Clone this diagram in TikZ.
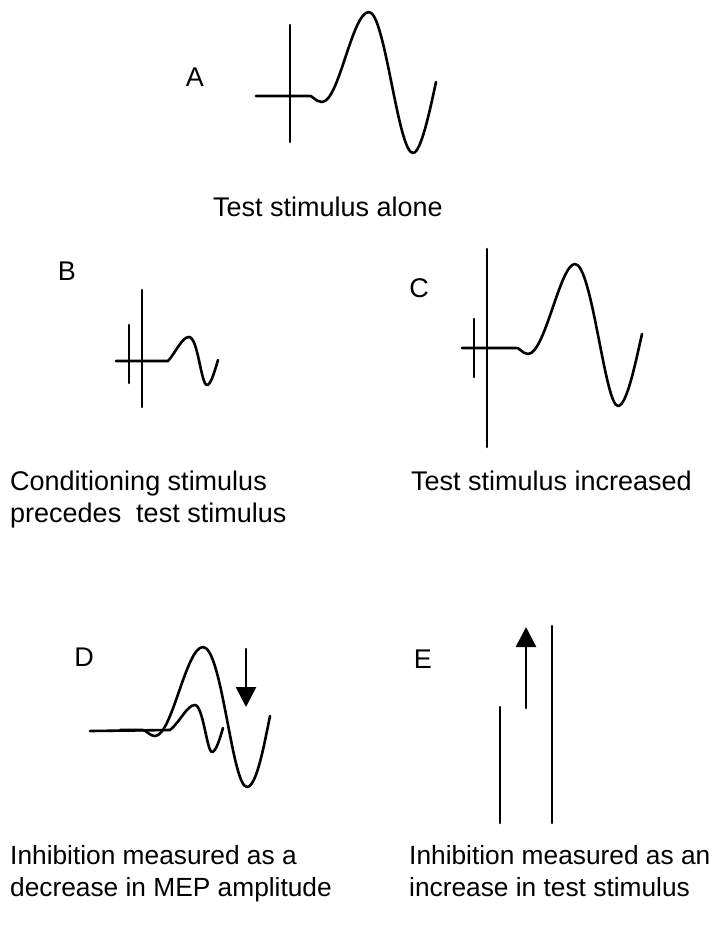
\documentclass[tikz,border=0pt]{standalone}
\usepackage{fontspec}
\setmainfont{Liberation Sans}
\usepackage{tikz}
\usetikzlibrary{arrows.meta}
\tikzset{
  trace/.style={line width=2.6pt, line join=round, line cap=round},
  panel/.style={font=\fontsize{27}{32}\selectfont, inner sep=0pt},
  caption/.style={panel, anchor=base west},
  note/.style={caption, font=\fontsize{26.3}{32}\selectfont},
  bigtip/.style={-{Triangle[length=20pt,width=20pt]}},
}

\begin{document}
\begin{tikzpicture}[x=1pt, y=-1pt]
			\useasboundingbox (0,0) rectangle (715,927);

			% A: test stimulus alone
			\node[panel] (labA) at (195,77) {A};
			\draw[trace] (290,25) -- (290,142);
			\draw[trace] (256,96) -- (308,96)
				.. controls (312,94) and (315,102) .. (322,102)
				.. controls (339,102) and (352,12) .. (369,12)
				.. controls (385,12) and (398,153) .. (413,153)
				.. controls (421,153) and (430,110) .. (436,82);
			\node[caption] (capA) at (213,216) {Test stimulus alone};

			% B: conditioning stimulus first
			\node[panel] (labB) at (67,271) {B};
			\draw[trace] (129,325) -- (129,383);
			\draw[trace] (142,290) -- (142,407);
			\draw[trace] (116,361) -- (168,361)
				.. controls (176,352) and (182,337) .. (189,337)
				.. controls (198,337) and (201,385) .. (207,385)
				.. controls (211,385) and (215,370) .. (218,360);
			\node[caption] (capB1) at (10,490) {Conditioning stimulus};
			\node[caption] (capB2) at (10,522) {precedes\ \ test stimulus};

			% C: larger test stimulus
			\node[panel] (labC) at (419,288) {C};
			\draw[trace] (474,319) -- (474,377);
			\draw[trace] (487,249) -- (487,447);
			\draw[trace] (462,348) -- (515,348)
				.. controls (519,346) and (522,354) .. (528,354)
				.. controls (545,354) and (560,264) .. (575,264)
				.. controls (592,264) and (605,406) .. (618,406)
				.. controls (627,406) and (636,360) .. (642,334);
			\node[caption] (capC) at (411,490) {Test stimulus increased};

			% D: smaller MEP
			\node[panel] (labD) at (84,657) {D};
			\draw[trace] (120,730) -- (143,730)
				.. controls (147,731) and (150,736) .. (155,736)
				.. controls (172,736) and (186,647) .. (203,647)
				.. controls (222,647) and (232,787) .. (247,787)
				.. controls (257,787) and (265,740) .. (270,716);
			\draw[trace] (90,731) -- (170,730)
				.. controls (180,722) and (187,705) .. (195,705)
				.. controls (203,705) and (207,752) .. (212,752)
				.. controls (216,752) and (220,738) .. (223,728);
			\coordinate (dtop) at (246,649);
			\coordinate (dtip) at (246,707);
			\draw[trace, bigtip] (dtop) -- (dtip);
			\node[note] (capD1) at (10,864) {Inhibition measured as a};
			\node[note] (capD2) at (10,896) {decrease in MEP amplitude};

			% E: stimulus raised
			\node[panel] (labE) at (423,659) {E};
			\draw[trace] (500,707) -- (500,823);
			\draw[trace] (552,626) -- (552,823);
			\coordinate (ebot) at (526,708);
			\coordinate (etip) at (526,627);
			\draw[trace, bigtip] (ebot) -- (etip);
			\node[note] (capE1) at (409,864) {Inhibition measured as an};
			\node[note] (capE2) at (409,896) {increase in test stimulus};
		\end{tikzpicture}
\end{document}
